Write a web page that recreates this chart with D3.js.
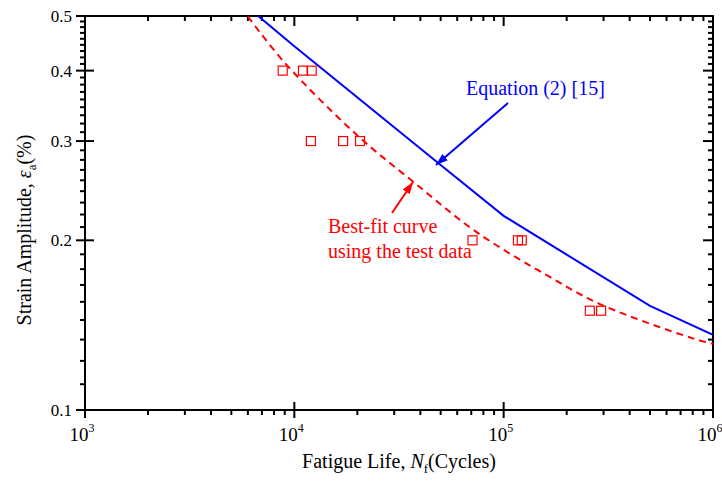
<!DOCTYPE html>
<html>
<head>
<meta charset="utf-8">
<script src="https://cdn.jsdelivr.net/npm/d3@7"></script>
<style>
  body { margin: 0; background: #fff; }
  svg { display: block; }
  text { font-family: "Liberation Serif", "Times New Roman", serif; }
</style>
</head>
<body>
<script>
// test data (squares)
var expN      = [8800, 11000, 12100, 12000, 17100, 20600, 71000, 117000, 122000, 258000, 292000];
var expStrain = [0.4, 0.4, 0.4, 0.3, 0.3, 0.3, 0.2, 0.2, 0.2, 0.15, 0.15];

// Equation (2) [15]
var eqN      = [5000, 10000, 50000, 100000, 500000, 1000000];
var eqStrain = [0.548, 0.442, 0.272, 0.221, 0.153, 0.136];

// best-fit curve using the test data
var fitN      = [6000, 9000, 20000, 37000, 74000, 167000, 290000, 800000, 1000000];
var fitStrain = [0.499, 0.413, 0.307, 0.254, 0.207, 0.172, 0.154, 0.134, 0.131];

var xMajor = [1e3, 1e4, 1e5, 1e6];
var xExp   = ["3", "4", "5", "6"];
var yMajor = [0.1, 0.2, 0.3, 0.4, 0.5];
var yLabels = ["0.1", "0.2", "0.3", "0.4", "0.5"];

var w = 722, h = 486;
var pL = 85, pR = 713, pT = 16, pB = 410;   // plot frame

var svg = d3.select("body").append("svg")
    .attr("width", w).attr("height", h);

var x = d3.scaleLog().domain([1e3, 1e6]).range([pL, pR]);
var y = d3.scaleLog().domain([0.1, 0.5]).range([pB, pT]);

// minor ticks
var xMinor = [];
[1e3, 1e4, 1e5].forEach(function(d) {
  for (var k = 2; k <= 9; k++) xMinor.push(d * k);
});
var yMinor = [];
for (var i = 0; i < yMajor.length - 1; i++) {
  for (var k = 1; k <= 8; k++) yMinor.push(yMajor[i] + (yMajor[i + 1] - yMajor[i]) * k / 9);
}

svg.append("clipPath").attr("id", "plot")
  .append("rect").attr("x", pL).attr("y", pT)
  .attr("width", pR - pL).attr("height", pB - pT);

var axes = svg.append("g").attr("stroke", "#000").attr("stroke-width", 2);

// bottom axis
axes.selectAll(".xb").data(xMajor).enter().append("line")
    .attr("x1", x).attr("x2", x).attr("y1", pB - 8).attr("y2", pB + 8);
axes.selectAll(".xbm").data(xMinor).enter().append("line")
    .attr("x1", x).attr("x2", x).attr("y1", pB).attr("y2", pB + 5);
// top axis
axes.selectAll(".xt").data(xMajor).enter().append("line")
    .attr("x1", x).attr("x2", x).attr("y1", pT).attr("y2", pT + 10);
axes.selectAll(".xtm").data(xMinor).enter().append("line")
    .attr("x1", x).attr("x2", x).attr("y1", pT).attr("y2", pT + 5);
// left axis
axes.selectAll(".yl").data(yMajor).enter().append("line")
    .attr("y1", y).attr("y2", y).attr("x1", pL - 9).attr("x2", pL + 9);
axes.selectAll(".ylm").data(yMinor).enter().append("line")
    .attr("y1", y).attr("y2", y).attr("x1", pL - 5).attr("x2", pL);
// right axis
axes.selectAll(".yr").data(yMajor).enter().append("line")
    .attr("y1", y).attr("y2", y).attr("x1", pR - 10).attr("x2", pR);
axes.selectAll(".yrm").data(yMinor).enter().append("line")
    .attr("y1", y).attr("y2", y).attr("x1", pR - 5).attr("x2", pR);

axes.append("rect")
    .attr("x", pL).attr("y", pT)
    .attr("width", pR - pL).attr("height", pB - pT)
    .attr("fill", "none");

// tick labels
svg.selectAll(".ylab").data(yMajor).enter().append("text")
    .attr("x", pL - 13).attr("y", function(d) { return y(d) + 6; })
    .attr("text-anchor", "end").attr("font-size", 17)
    .text(function(d, i) { return yLabels[i]; });

var xl = svg.selectAll(".xlab").data(xMajor).enter().append("text")
    .attr("x", function(d) { return x(d) - 3; }).attr("y", pB + 31)
    .attr("text-anchor", "middle").attr("font-size", 19);
xl.append("tspan").text("10");
xl.append("tspan").attr("font-size", 12).attr("dy", -9)
    .text(function(d, i) { return xExp[i]; });

// axis titles
var xt = svg.append("text").attr("x", (pL + pR) / 2).attr("y", 468)
    .attr("text-anchor", "middle").attr("font-size", 20);
xt.append("tspan").text("Fatigue Life, ");
xt.append("tspan").attr("font-style", "italic").text("N");
xt.append("tspan").attr("font-size", 13).attr("dy", 5).text("f");
xt.append("tspan").attr("dy", -5).text("(Cycles)");

var yt = svg.append("text").attr("transform", "translate(31,230) rotate(-90)")
    .attr("text-anchor", "middle").attr("font-size", 20);
yt.append("tspan").text("Strain Amplitude, ");
yt.append("tspan").attr("font-style", "italic").text("\u03b5");
yt.append("tspan").attr("font-size", 13).attr("dy", 5).text("a");
yt.append("tspan").attr("dy", -5).text("(%)");

// curves
var plot = svg.append("g").attr("clip-path", "url(#plot)");

var eqLine = d3.line()
    .x(function(d, i) { return x(eqN[i]); })
    .y(function(d) { return y(d); });
plot.append("path").datum(eqStrain)
    .attr("d", eqLine)
    .attr("fill", "none").attr("stroke", "#0000ff").attr("stroke-width", 2);

var fitLine = d3.line()
    .curve(d3.curveCatmullRom)
    .x(function(d, i) { return x(fitN[i]); })
    .y(function(d) { return y(d); });
plot.append("path").datum(fitStrain)
    .attr("d", fitLine)
    .attr("fill", "none").attr("stroke", "#ff0000").attr("stroke-width", 2)
    .attr("stroke-dasharray", "7,5");

// test data squares
plot.selectAll(".pt").data(expStrain).enter().append("rect")
    .attr("x", function(d, i) { return x(expN[i]) - 4.5; })
    .attr("y", function(d) { return y(d) - 4.5; })
    .attr("width", 9).attr("height", 9)
    .attr("fill", "none").attr("stroke", "#ff0000").attr("stroke-width", 1.2);

// annotations
var defs = svg.append("defs");
[["arrBlue", "#0000ff"], ["arrRed", "#ff0000"]].forEach(function(a) {
  defs.append("marker").attr("id", a[0])
      .attr("viewBox", "0 0 10 10").attr("refX", 10).attr("refY", 5)
      .attr("markerWidth", 6).attr("markerHeight", 6)
      .attr("markerUnits", "strokeWidth")
      .attr("orient", "auto")
    .append("path").attr("d", "M0,1.5L10,5L0,8.5Z").attr("fill", a[1]);
});

svg.append("line")
    .attr("x1", 508).attr("y1", 103).attr("x2", 436).attr("y2", 165)
    .attr("stroke", "#0000ff").attr("stroke-width", 2)
    .attr("marker-end", "url(#arrBlue)");
svg.append("text").attr("x", 466).attr("y", 95)
    .attr("font-size", 20).attr("fill", "#0000ff")
    .text("Equation (2) [15]");

svg.append("line")
    .attr("x1", 392).attr("y1", 213).attr("x2", 413).attr("y2", 182)
    .attr("stroke", "#ff0000").attr("stroke-width", 2)
    .attr("marker-end", "url(#arrRed)");
svg.append("text").attr("x", 328).attr("y", 233)
    .attr("font-size", 20).attr("fill", "#ff0000")
    .text("Best-fit curve");
svg.append("text").attr("x", 328).attr("y", 258)
    .attr("font-size", 20).attr("fill", "#ff0000")
    .text("using the test data");
</script>
</body>
</html>
